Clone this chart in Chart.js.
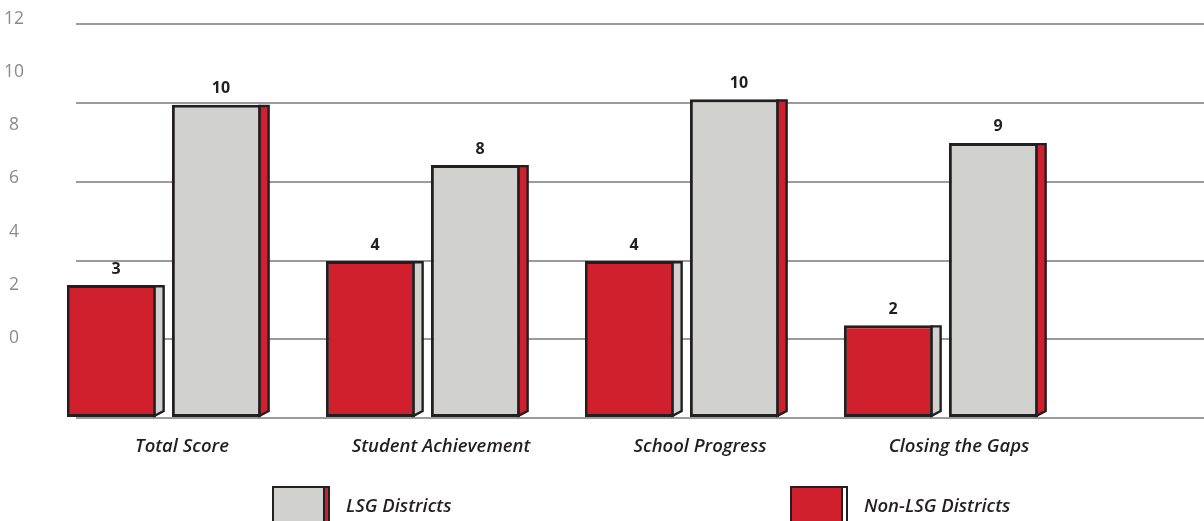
<!DOCTYPE html>
<html><head><meta charset="utf-8">
<script src="https://cdn.jsdelivr.net/npm/chart.js@4.4.1/dist/chart.umd.min.js"></script>
<style>
html,body{margin:0;padding:0;background:#fff;overflow:hidden;}
#wrap{position:relative;width:1204px;height:521px;overflow:hidden;font-family:"Open Sans",sans-serif;}
#c{position:absolute;left:0;top:0;}
.item{position:absolute;top:486px;display:flex;align-items:flex-start;}
.front{height:40px;box-sizing:border-box;border:2px solid #231f20;}
.side{width:5px;height:40px;box-sizing:border-box;border:2px solid #231f20;border-left:none;}
.txt{font-style:italic;font-weight:600;font-size:18.5px;color:#231f20;margin-left:16px;margin-top:6px;white-space:nowrap;}
</style></head>
<body><div id="wrap"><canvas id="c" width="1204" height="521"></canvas><div id="legend"></div></div>
<script>
// ---- data ----
const categories = ['Total Score', 'Student Achievement', 'School Progress', 'Closing the Gaps'];
const seriesNames = ['Non-LSG Districts', 'LSG Districts'];
// printed value labels
const nonLsgPrinted = [3, 4, 4, 2];
const lsgPrinted = [10, 8, 10, 9];
// bar heights measured against the gridlines (gridline step = 2)
const nonLsgHeights = [3.38, 3.99, 3.99, 2.36];
const lsgHeights = [7.96, 6.43, 8.10, 6.99];
// tick labels
const leftTickLabels = [0, 2, 4, 6, 8, 10, 12];
const gridTicks = [0, 2, 4, 6, 8, 10];

const RED = '#d0202e', GRAY = '#d1d1cf', EDGE = '#231f20';
const printed = [nonLsgPrinted, lsgPrinted];

const sideFaces = {
  id: 'sideFaces',
  afterDatasetsDraw(chart) {
    const ctx = chart.ctx;
    chart.data.datasets.forEach((ds, di) => {
      const meta = chart.getDatasetMeta(di);
      meta.data.forEach((bar, i) => {
        const p = bar.getProps(['x', 'y', 'base', 'width'], true);
        const r = p.x + p.width / 2 - 1.5;
        const sw = 9, lift = 6;
        ctx.save();
        ctx.beginPath();
        ctx.moveTo(r, p.y + 1.2);
        ctx.lineTo(r + sw, p.y + 1.2);
        ctx.lineTo(r + sw, p.base - lift);
        ctx.lineTo(r, p.base - 1.2);
        ctx.closePath();
        ctx.fillStyle = ds.sideColor;
        ctx.fill();
        ctx.lineWidth = 2.4;
        ctx.strokeStyle = EDGE;
        ctx.stroke();
        ctx.fillStyle = EDGE;
        ctx.font = 'bold 16px "Open Sans"';
        ctx.textAlign = 'center';
        ctx.textBaseline = 'middle';
        ctx.fillText(String(printed[di][i]), p.x + sw / 2, p.y - 16);
        ctx.restore();
      });
    });
  }
};

const mk = arr => arr.map((v, i) => ({ x: i, y: v }));

new Chart(document.getElementById('c'), {
  type: 'bar',
  data: {
    datasets: [
      { label: seriesNames[0], data: mk(nonLsgHeights), backgroundColor: RED, sideColor: GRAY,
        borderColor: EDGE, borderWidth: 3, borderSkipped: false, clip: false, xAxisID: 'x', yAxisID: 'y' },
      { label: seriesNames[1], data: mk(lsgHeights), backgroundColor: GRAY, sideColor: RED,
        borderColor: EDGE, borderWidth: 3, borderSkipped: false, clip: false, xAxisID: 'x', yAxisID: 'y' }
    ]
  },
  options: {
    responsive: false,
    animation: false,
    devicePixelRatio: 1,
    categoryPercentage: 0.8108,
    barPercentage: 0.85,
    layout: { padding: { top: 17, left: 0, right: 0, bottom: 0 } },
    plugins: { legend: { display: false }, tooltip: { enabled: false } },
    scales: {
      x: {
        type: 'linear', position: 'bottom', min: -0.3398, max: 4.0154, offset: false,
        afterBuildTicks: s => { s.ticks = categories.map((_, i) => ({ value: i })); },
        afterFit: s => { s.height = 103; s.paddingLeft = 0; s.paddingRight = 0; },
        grid: { display: false, offset: false }, border: { display: false },
        ticks: {
          callback: v => categories[v], labelOffset: 18, padding: 10, autoSkip: false, maxRotation: 0,
          color: EDGE, font: { family: 'Open Sans', size: 18.5, style: 'italic', weight: 600 }
        }
      },
      y: {
        position: 'right', min: 0, max: 10.19,
        afterBuildTicks: s => { s.ticks = gridTicks.map(v => ({ value: v })); },
        afterFit: s => { s.width = 0; s.paddingTop = 0; s.paddingBottom = 0; },
        ticks: { display: false },
        grid: { color: '#9b9b9b', lineWidth: 2, drawTicks: false },
        border: { display: false }
      },
      y2: {
        position: 'left', min: -3.01, max: 12.075,
        afterBuildTicks: s => { s.ticks = leftTickLabels.map(v => ({ value: v })); },
        afterFit: s => { s.width = 76; s.paddingTop = 0; s.paddingBottom = 0; },
        grid: { display: false }, border: { display: false },
        ticks: { crossAlign: 'center', padding: 44, color: '#8a8a8a', font: { family: 'Open Sans', size: 17.5 } }
      }
    }
  },
  plugins: [sideFaces]
});

// legend (HTML)
const legendItems = [
  { name: seriesNames[1], front: GRAY, side: RED, left: 272 },
  { name: seriesNames[0], front: RED, side: '#ffffff', left: 790 }
];
const lg = document.getElementById('legend');
legendItems.forEach(it => {
  const d = document.createElement('div');
  d.className = 'item';
  d.style.left = it.left + 'px';
  d.innerHTML = '<div class="front" style="width:53px;background:' + it.front + '"></div>' +
    '<div class="side" style="background:' + it.side + '"></div>' +
    '<div class="txt">' + it.name + '</div>';
  lg.appendChild(d);
});
</script>
</body></html>
